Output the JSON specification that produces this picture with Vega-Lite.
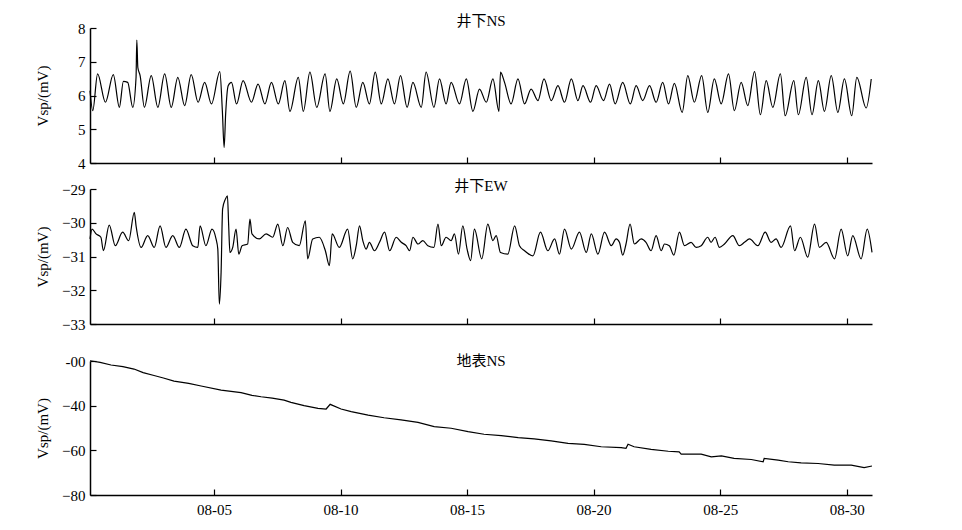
{
  "$schema": "https://vega.github.io/schema/vega-lite/v6.json",
  "padding": {"left": 34, "top": 14, "right": 5, "bottom": 0},
  "background": "white",
  "config": {
    "font": "Liberation Serif, Noto Sans CJK SC",
    "view": {"stroke": null},
    "axis": {
      "grid": false,
      "domainColor": "black",
      "domainWidth": 1.5,
      "tickColor": "black",
      "tickSize": -6,
      "tickWidth": 1.2,
      "labelColor": "black",
      "labelFont": "Liberation Serif",
      "labelFontSize": 15,
      "labelPadding": 11,
      "titleFont": "Liberation Serif",
      "titleFontSize": 15,
      "titleFontWeight": "normal",
      "titleColor": "black"
    },
    "axisX": {"labelPadding": 13},
    "title": {"font": "Liberation Serif, Noto Sans CJK SC", "fontSize": 15, "fontWeight": "normal", "color": "black", "anchor": "middle", "frame": "group"},
    "line": {"color": "black", "strokeWidth": 1.2, "interpolate": "monotone"}
  },
  "datasets": {
    "ns": [
      {"t":0.1,"v":6.14},{"t":0.21,"v":5.55},{"t":0.40,"v":6.64},{"t":0.71,"v":5.80},{"t":1.02,"v":6.62},{"t":1.26,"v":5.65},{"t":1.42,"v":6.42},{"t":1.59,"v":6.39},{"t":1.79,"v":5.65},{"t":1.92,"v":6.54},{"t":1.95,"v":7.64},{"t":1.99,"v":6.83},{"t":2.08,"v":6.59},{"t":2.25,"v":5.65},{"t":2.52,"v":6.59},{"t":2.78,"v":5.65},{"t":3.05,"v":6.64},{"t":3.31,"v":5.65},{"t":3.57,"v":6.54},{"t":3.84,"v":5.70},{"t":4.10,"v":6.62},{"t":4.37,"v":5.80},{"t":4.63,"v":6.39},{"t":4.90,"v":5.75},{"t":5.23,"v":6.71},{"t":5.33,"v":5.55},{"t":5.40,"v":4.46},{"t":5.46,"v":5.45},{"t":5.56,"v":6.29},{"t":5.69,"v":6.39},{"t":5.89,"v":5.75},{"t":6.15,"v":6.44},{"t":6.48,"v":5.80},{"t":6.74,"v":6.34},{"t":7.01,"v":5.75},{"t":7.27,"v":6.39},{"t":7.54,"v":5.75},{"t":7.80,"v":6.44},{"t":8.00,"v":5.53},{"t":8.33,"v":6.54},{"t":8.53,"v":5.53},{"t":8.79,"v":6.69},{"t":9.06,"v":5.65},{"t":9.39,"v":6.64},{"t":9.58,"v":5.53},{"t":9.85,"v":6.49},{"t":10.11,"v":5.75},{"t":10.38,"v":6.72},
      {"t":10.62,"v":5.65},{"t":10.88,"v":6.39},{"t":11.14,"v":5.75},{"t":11.37,"v":6.69},{"t":11.61,"v":5.75},{"t":11.87,"v":6.49},{"t":12.13,"v":5.75},{"t":12.37,"v":6.59},{"t":12.63,"v":5.65},{"t":12.86,"v":6.39},{"t":13.19,"v":5.65},{"t":13.38,"v":6.69},{"t":13.69,"v":5.65},{"t":13.91,"v":6.49},{"t":14.17,"v":5.75},{"t":14.37,"v":6.39},{"t":14.70,"v":5.75},{"t":14.97,"v":6.49},{"t":15.23,"v":5.53},{"t":15.49,"v":6.19},{"t":15.76,"v":5.80},{"t":16.02,"v":6.49},{"t":16.26,"v":5.53},{"t":16.32,"v":6.69},{"t":16.48,"v":6.39},{"t":16.74,"v":5.75},{"t":17.01,"v":6.49},{"t":17.27,"v":5.75},{"t":17.53,"v":6.19},{"t":17.80,"v":5.85},{"t":18.04,"v":6.49},{"t":18.33,"v":5.85},{"t":18.59,"v":6.29},{"t":18.85,"v":5.80},{"t":19.12,"v":6.49},{"t":19.38,"v":5.85},{"t":19.58,"v":6.29},{"t":19.88,"v":5.80},{"t":20.10,"v":6.29},{"t":20.39,"v":5.85},{"t":20.63,"v":6.34},
      {"t":20.85,"v":5.75},{"t":21.15,"v":6.39},{"t":21.45,"v":5.75},{"t":21.68,"v":6.29},{"t":21.94,"v":5.85},{"t":22.21,"v":6.29},{"t":22.47,"v":5.80},{"t":22.73,"v":6.39},{"t":22.96,"v":5.75},{"t":23.19,"v":6.36},{"t":23.50,"v":5.50},{"t":23.72,"v":6.59},{"t":23.98,"v":5.80},{"t":24.27,"v":6.59},{"t":24.51,"v":5.50},{"t":24.77,"v":6.49},{"t":25.04,"v":5.75},{"t":25.33,"v":6.64},{"t":25.56,"v":5.55},{"t":25.83,"v":6.39},{"t":26.09,"v":5.70},{"t":26.36,"v":6.71},{"t":26.59,"v":5.43},{"t":26.82,"v":6.44},{"t":27.08,"v":5.65},{"t":27.38,"v":6.64},{"t":27.57,"v":5.40},{"t":27.91,"v":6.44},{"t":28.09,"v":5.43},{"t":28.40,"v":6.54},{"t":28.63,"v":5.43},{"t":28.88,"v":6.44},{"t":29.12,"v":5.53},{"t":29.39,"v":6.59},{"t":29.65,"v":5.50},{"t":29.91,"v":6.49},{"t":30.20,"v":5.40},{"t":30.40,"v":6.54},{"t":30.77,"v":5.63},{"t":30.97,"v":6.49}
    ],
    "ew": [
      {"t":0.1,"v":-30.48},{"t":0.18,"v":-30.19},{"t":0.34,"v":-30.33},{"t":0.53,"v":-30.43},{"t":0.63,"v":-30.83},{"t":0.86,"v":-30.07},{"t":1.10,"v":-30.68},{"t":1.39,"v":-30.28},{"t":1.63,"v":-30.53},{"t":1.85,"v":-29.69},{"t":1.92,"v":-30.09},{"t":2.12,"v":-30.73},{"t":2.38,"v":-30.38},{"t":2.64,"v":-30.73},{"t":2.87,"v":-30.09},{"t":3.10,"v":-30.73},{"t":3.37,"v":-30.38},{"t":3.63,"v":-30.73},{"t":3.89,"v":-30.19},{"t":4.16,"v":-30.68},{"t":4.36,"v":-30.73},{"t":4.45,"v":-30.09},{"t":4.68,"v":-30.68},{"t":4.92,"v":-30.19},{"t":5.08,"v":-30.48},{"t":5.15,"v":-30.78},{"t":5.21,"v":-32.41},{"t":5.28,"v":-31.47},{"t":5.34,"v":-29.59},{"t":5.45,"v":-29.30},{"t":5.53,"v":-29.20},{"t":5.58,"v":-30.09},{"t":5.63,"v":-30.88},{"t":5.74,"v":-30.73},{"t":5.87,"v":-30.19},{"t":5.98,"v":-30.93},{"t":6.11,"v":-30.68},{"t":6.33,"v":-30.63},{"t":6.42,"v":-29.89},{"t":6.50,"v":-30.33},{"t":6.79,"v":-30.48},{"t":7.06,"v":-30.33},{"t":7.32,"v":-30.43},{"t":7.52,"v":-30.04},{"t":7.72,"v":-30.68},{"t":7.91,"v":-30.14},{"t":8.11,"v":-30.58},{"t":8.37,"v":-30.68},{"t":8.61,"v":-29.94},{"t":8.70,"v":-31.07},{"t":8.90,"v":-30.48},{"t":9.16,"v":-30.43},{"t":9.40,"v":-30.83},{"t":9.56,"v":-31.27},{"t":9.67,"v":-30.33},{"t":9.95,"v":-30.73},{"t":10.28,"v":-30.19},{"t":10.48,"v":-31.07},
      {"t":10.62,"v":-30.68},{"t":10.75,"v":-30.09},{"t":10.88,"v":-30.53},{"t":11.01,"v":-30.78},{"t":11.14,"v":-30.58},{"t":11.34,"v":-30.83},{"t":11.54,"v":-30.58},{"t":11.74,"v":-30.28},{"t":11.94,"v":-30.83},{"t":12.20,"v":-30.43},{"t":12.40,"v":-30.58},{"t":12.59,"v":-30.68},{"t":12.73,"v":-30.83},{"t":12.86,"v":-30.43},{"t":13.06,"v":-30.63},{"t":13.25,"v":-30.53},{"t":13.45,"v":-30.68},{"t":13.69,"v":-30.73},{"t":13.85,"v":-30.04},{"t":13.98,"v":-30.68},{"t":14.17,"v":-30.43},{"t":14.37,"v":-30.53},{"t":14.50,"v":-30.33},{"t":14.66,"v":-30.93},{"t":14.83,"v":-30.09},{"t":15.00,"v":-30.78},{"t":15.14,"v":-31.12},{"t":15.29,"v":-30.19},{"t":15.58,"v":-31.07},{"t":15.82,"v":-30.04},{"t":16.02,"v":-30.53},{"t":16.15,"v":-30.38},{"t":16.32,"v":-30.88},{"t":16.61,"v":-30.93},{"t":16.88,"v":-30.09},{"t":17.07,"v":-30.68},{"t":17.27,"v":-30.83},{"t":17.60,"v":-30.98},{"t":17.90,"v":-30.28},{"t":18.19,"v":-30.83},{"t":18.46,"v":-30.48},{"t":18.65,"v":-30.93},{"t":18.85,"v":-30.19},{"t":19.12,"v":-30.78},{"t":19.44,"v":-30.28},{"t":19.71,"v":-30.88},{"t":19.91,"v":-30.33},{"t":20.17,"v":-30.93},{"t":20.43,"v":-30.28},{"t":20.70,"v":-30.68},
      {"t":20.89,"v":-30.48},{"t":21.02,"v":-30.58},{"t":21.15,"v":-30.96},{"t":21.28,"v":-30.63},{"t":21.44,"v":-30.04},{"t":21.61,"v":-30.63},{"t":21.88,"v":-30.48},{"t":22.07,"v":-30.58},{"t":22.27,"v":-30.83},{"t":22.47,"v":-30.38},{"t":22.67,"v":-30.83},{"t":22.80,"v":-30.63},{"t":22.99,"v":-30.68},{"t":23.17,"v":-30.96},{"t":23.39,"v":-30.28},{"t":23.59,"v":-30.68},{"t":23.85,"v":-30.58},{"t":24.05,"v":-30.73},{"t":24.25,"v":-30.68},{"t":24.51,"v":-30.43},{"t":24.64,"v":-30.58},{"t":24.80,"v":-30.43},{"t":24.97,"v":-30.73},{"t":25.17,"v":-30.63},{"t":25.50,"v":-30.38},{"t":25.76,"v":-30.68},{"t":25.96,"v":-30.58},{"t":26.16,"v":-30.48},{"t":26.49,"v":-30.68},{"t":26.78,"v":-30.28},{"t":27.01,"v":-30.58},{"t":27.21,"v":-30.48},{"t":27.41,"v":-30.73},{"t":27.78,"v":-30.09},{"t":27.94,"v":-30.83},{"t":28.17,"v":-30.43},{"t":28.46,"v":-31.02},{"t":28.73,"v":-30.04},{"t":28.92,"v":-30.73},{"t":29.19,"v":-30.58},{"t":29.52,"v":-31.07},{"t":29.78,"v":-30.19},{"t":30.04,"v":-30.98},{"t":30.24,"v":-30.38},{"t":30.57,"v":-31.07},{"t":30.81,"v":-30.19},{"t":31.0,"v":-30.88}
    ],
    "surf": [
      {"t":0.1,"v":-19.9},{"t":0.5,"v":-20.6},{"t":0.93,"v":-21.8},{"t":1.4,"v":-22.5},{"t":1.84,"v":-23.6},{"t":2.2,"v":-25.2},{"t":2.63,"v":-26.5},{"t":3.0,"v":-27.6},{"t":3.42,"v":-29.0},{"t":4.0,"v":-30.0},{"t":4.49,"v":-31.2},{"t":5.28,"v":-33.0},{"t":6.07,"v":-34.2},{"t":6.5,"v":-35.4},{"t":6.86,"v":-36.0},{"t":7.3,"v":-36.6},{"t":7.77,"v":-37.5},{"t":8.04,"v":-38.5},{"t":8.56,"v":-40.0},{"t":9.11,"v":-41.2},{"t":9.43,"v":-41.5},{"t":9.59,"v":-39.4},{"t":10.02,"v":-41.5},{"t":10.42,"v":-42.7},{"t":11.09,"v":-44.2},{"t":11.72,"v":-45.4},{"t":12.39,"v":-46.4},{"t":13.06,"v":-47.5},{"t":13.70,"v":-49.4},{"t":14.37,"v":-50.1},{"t":15.04,"v":-51.6},{"t":15.67,"v":-52.8},{"t":16.35,"v":-53.4},{"t":17.02,"v":-54.3},{"t":17.65,"v":-54.9},{"t":18.32,"v":-55.8},{"t":18.99,"v":-56.9},{"t":19.63,"v":-57.3},{"t":20.30,"v":-58.4},{"t":21.09,"v":-58.8},{"t":21.28,"v":-59.1},{"t":21.36,"v":-57.3},{"t":21.60,"v":-58.4},{"t":22.27,"v":-59.6},{"t":22.95,"v":-60.4},{"t":23.38,"v":-60.7},{"t":23.46,"v":-61.7},{"t":24.25,"v":-61.7},{"t":24.65,"v":-62.9},{"t":25.05,"v":-62.5},{"t":25.55,"v":-63.6},{"t":26.23,"v":-64.1},{"t":26.70,"v":-65.1},{"t":26.74,"v":-63.6},{"t":27.29,"v":-64.4},{"t":27.69,"v":-65.1},{"t":28.20,"v":-65.6},{"t":28.87,"v":-65.9},{"t":29.51,"v":-66.6},{"t":30.18,"v":-66.6},{"t":30.69,"v":-67.7},{"t":31.0,"v":-67.0}
    ]
  },
  "spacing": 8,
  "vconcat": [
    {
      "data": {"name": "ns"},
      "width": 782,
      "height": 135,
      "title": {"text": "井下NS", "offset": -8},
      "mark": {"type": "line"},
      "encoding": {
        "x": {"field": "t", "type": "quantitative", "scale": {"domain": [0.1, 31], "nice": false, "zero": false}, "axis": {"values": [5, 10, 15, 20, 25, 30], "labels": false, "title": null}},
        "y": {"field": "v", "type": "quantitative", "scale": {"domain": [4, 8], "nice": false, "zero": false}, "axis": {"values": [4, 5, 6, 7, 8], "title": "Vsp/(mV)", "titleX": -48, "titleY": 67.5, "titleAngle": -90, "titleAlign": "center", "titleBaseline": "middle"}}
      }
    },
    {
      "data": {"name": "ew"},
      "width": 782,
      "height": 135,
      "title": {"text": "井下EW", "offset": -12},
      "mark": {"type": "line"},
      "encoding": {
        "x": {"field": "t", "type": "quantitative", "scale": {"domain": [0.1, 31], "nice": false, "zero": false}, "axis": {"values": [5, 10, 15, 20, 25, 30], "labels": false, "title": null}},
        "y": {"field": "v", "type": "quantitative", "scale": {"domain": [-33, -29], "nice": false, "zero": false}, "axis": {"values": [-33, -32, -31, -30, -29], "title": "Vsp/(mV)", "titleX": -48, "titleY": 67.5, "titleAngle": -90, "titleAlign": "center", "titleBaseline": "middle"}}
      }
    },
    {
      "data": {"name": "surf"},
      "width": 782,
      "height": 134,
      "title": {"text": ["", "地表NS"], "offset": -15, "lineHeight": 14},
      "mark": {"type": "line", "interpolate": "linear"},
      "encoding": {
        "x": {"field": "t", "type": "quantitative", "scale": {"domain": [0.1, 31], "nice": false, "zero": false}, "axis": {"values": [5, 10, 15, 20, 25, 30], "title": null, "labelExpr": "datum.value < 10 ? '08-0' + datum.value : '08-' + datum.value"}},
        "y": {"field": "v", "type": "quantitative", "scale": {"domain": [-80, -20], "nice": false, "zero": false}, "axis": {"values": [-80, -60, -40, -20], "title": "Vsp/(mV)", "titleX": -48, "titleY": 67, "titleAngle": -90, "titleAlign": "center", "titleBaseline": "middle", "labelExpr": "datum.value == -20 ? '-00' : datum.label"}}
      }
    }
  ]
}
